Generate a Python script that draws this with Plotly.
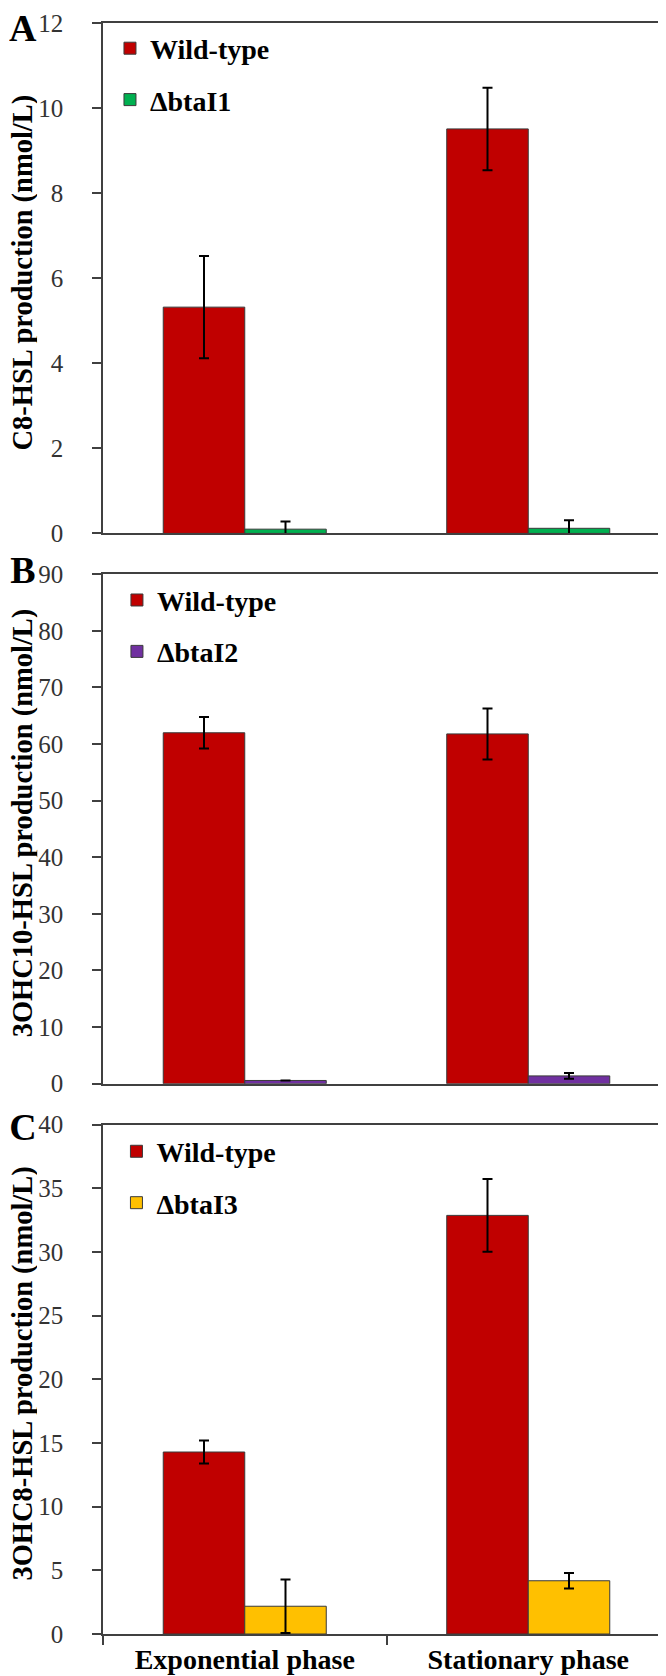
import plotly.graph_objects as go

categories = ["Exponential phase", "Stationary phase"]

wt_label = "Wild-type"
mut_labels = ["ΔbtaI1", "ΔbtaI2", "ΔbtaI3"]
panel_letters = ["A", "B", "C"]
y_titles = ["C8-HSL production (nmol/L)",
            "3OHC10-HSL production (nmol/L)",
            "3OHC8-HSL production (nmol/L)"]

wt_A = [5.32, 9.51]
wt_A_err = [1.2, 0.97]
mut_A = [0.10, 0.12]
mut_A_err = [0.18, 0.19]

wt_B = [62.0, 61.8]
wt_B_err = [2.8, 4.5]
mut_B = [0.57, 1.38]
mut_B_err = [0.0, 0.5]

wt_C = [14.29, 32.87]
wt_C_err = [0.9, 2.85]
mut_C = [2.18, 4.18]
mut_C_err = [2.1, 0.6]

y_ranges = [[0, 12], [0, 90], [0, 40]]
y_dticks = [2, 10, 5]

RED = "#C00000"
mut_colors = ["#00B050", "#7030A0", "#FFC000"]

W, H = 666, 1676
ML, MR, MT, MB = 95, 2, 10, 50
PW = W - ML - MR
PH = H - MT - MB

def px_y(py):
    return (H - MB - py) / PH

def px_x(px):
    return (px - ML) / PW

panels = [(wt_A, wt_A_err, mut_A, mut_A_err),
          (wt_B, wt_B_err, mut_B, mut_B_err),
          (wt_C, wt_C_err, mut_C, mut_C_err)]
tops = [10, 563, 1115]
bottoms = [522, 1074, 1626]
legend_sym = [(124, 48.5), (131, 602), (130.5, 1155)]
letter_center = [15, 559, 1117]

SERIF = "Liberation Serif"
fig = go.Figure()
for i, (wt, wte, mu, mue) in enumerate(panels):
    xa = "x" if i == 0 else f"x{i+1}"
    ya = "y" if i == 0 else f"y{i+1}"
    lg = "legend" if i == 0 else f"legend{i+1}"
    fig.add_trace(go.Bar(
        x=categories, y=wt, name=wt_label, xaxis=xa, yaxis=ya, legend=lg,
        legendgroup=f"wt{i}",
        marker=dict(color=RED, line=dict(color="#3a3a3a", width=1)),
        error_y=dict(type="data", array=wte, color="black", thickness=2, width=5),
    ))
    fig.add_trace(go.Bar(
        x=categories, y=mu, name=mut_labels[i], xaxis=xa, yaxis=ya, legend=lg,
        legendgroup=f"mut{i}",
        marker=dict(color=mut_colors[i], line=dict(color="#3a3a3a", width=1)),
        error_y=dict(type="data", array=mue, color="black", thickness=2, width=5),
    ))

layout = dict(
    width=W, height=H,
    margin=dict(l=ML, r=MR, t=MT, b=MB),
    paper_bgcolor="white", plot_bgcolor="white",
    barmode="group", bargap=0.425, bargroupgap=0,
    font=dict(family=SERIF, color="black"),
    showlegend=True,
)

axis_line = "#404040"
for i in range(3):
    xk = "xaxis" if i == 0 else f"xaxis{i+1}"
    yk = "yaxis" if i == 0 else f"yaxis{i+1}"
    ya = "y" if i == 0 else f"y{i+1}"
    xa = "x" if i == 0 else f"x{i+1}"
    dom = [px_y(bottoms[i]), min(1.0, px_y(tops[i]))]
    last = (i == 2)
    layout[xk] = dict(
        anchor=ya, domain=[0, 1], type="category",
        showline=True, linecolor=axis_line, linewidth=1.5, mirror=True,
        ticks="outside" if last else "", tickson="boundaries", ticklen=9,
        tickcolor=axis_line, tickwidth=1.5,
        showticklabels=last, showgrid=False,
        tickfont=dict(family=SERIF, size=28, color="black", weight="bold"),
    )
    if i > 0:
        layout[xk]["matches"] = "x"
    layout[yk] = dict(
        anchor=xa, domain=dom, range=y_ranges[i], dtick=y_dticks[i],
        showline=True, linecolor=axis_line, linewidth=1.5, mirror=True,
        ticks="outside", ticklen=9, tickcolor=axis_line, tickwidth=1.5,
        showgrid=False, zeroline=False,
        tickfont=dict(family=SERIF, size=25, color="#333333"),
        ticklabelstandoff=24,
    )
    lgk = "legend" if i == 0 else f"legend{i+1}"
    sx, sy = legend_sym[i]
    layout[lgk] = dict(
        x=px_x(sx - 22), y=px_y(sy - 38), xanchor="left", yanchor="top",
        bgcolor="rgba(0,0,0,0)", borderwidth=0,
        font=dict(family=SERIF, size=28, color="black", weight="bold"),
        tracegroupgap=12, traceorder="grouped",
    )

fig.update_layout(**layout)

for i in range(3):
    # panel letter
    fig.add_annotation(
        text=panel_letters[i], xref="paper", yref="paper",
        x=px_x(15), y=px_y(letter_center[i]), xanchor="center", yanchor="middle",
        height=30, width=28, valign="middle", align="center", showarrow=False,
        font=dict(family=SERIF, size=38, color="black", weight="bold"),
    )
    # y-axis title
    fig.add_annotation(
        text=y_titles[i], xref="paper", yref="paper", textangle=-90,
        x=px_x(15), y=px_y((tops[i] + bottoms[i]) / 2 - 6),
        xanchor="center", yanchor="middle", showarrow=False,
        height=28, valign="middle",
        font=dict(family=SERIF, size=28.5, color="black", weight="bold"),
    )

fig.write_html("out.html")
